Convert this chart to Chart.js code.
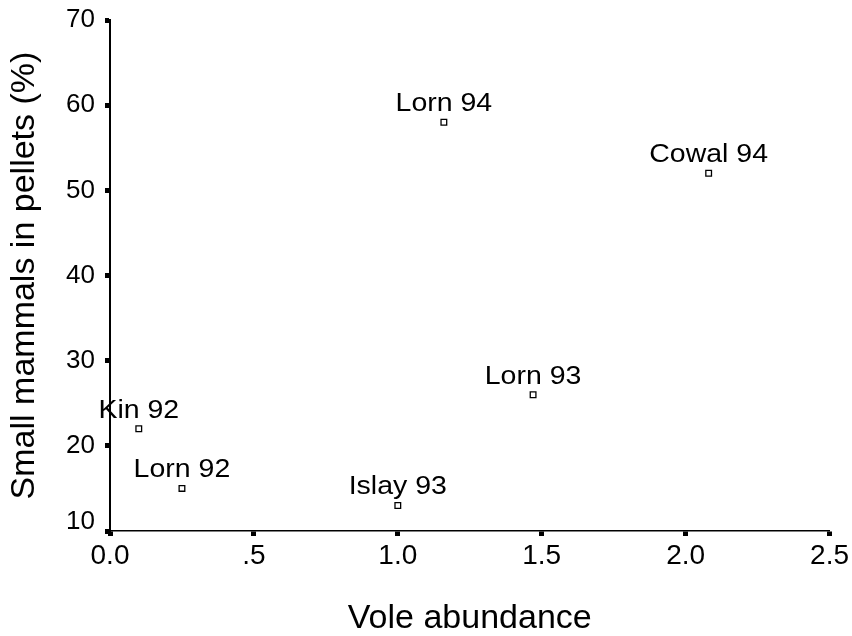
<!DOCTYPE html>
<html>
<head>
<meta charset="utf-8">
<script src="https://cdn.jsdelivr.net/npm/chart.js@4"></script>
<style>
  html, body { margin: 0; padding: 0; background: #fff; }
  canvas { display: block; }
</style>
</head>
<body>
<canvas id="c" width="852" height="636"></canvas>
<script>
// ---- data ----
const siteNames = ['Kin 92', 'Lorn 92', 'Islay 93', 'Lorn 94', 'Lorn 93', 'Cowal 94'];
const voleAbundance = [0.10, 0.25, 1.00, 1.16, 1.47, 2.08];
const smallMammalsPct = [22, 15, 13, 58, 26, 52];
const xTickLabels = ['0.0', '.5', '1.0', '1.5', '2.0', '2.5'];
const yTickLabels = ['10', '20', '30', '40', '50', '60', '70'];

const FONT = "'Liberation Sans', Arial, Helvetica, sans-serif";

const points = voleAbundance.map((x, i) => ({ x: x, y: smallMammalsPct[i] }));

const pointLabels = {
  id: 'pointLabels',
  afterDatasetsDraw(chart) {
    const ctx = chart.ctx;
    const meta = chart.getDatasetMeta(0);
    meta.data.forEach((el, i) => {
      ctx.save();
      ctx.font = '25px ' + FONT;
      ctx.fillStyle = '#000';
      ctx.textAlign = 'center';
      ctx.textBaseline = 'alphabetic';
      ctx.translate(el.x, el.y - 11);
      ctx.scale(1.14, 1);
      ctx.fillText(siteNames[i], 0, 0);
      ctx.restore();
    });
  }
};

new Chart(document.getElementById('c'), {
  type: 'scatter',
  data: {
    datasets: [{
      data: points,
      pointStyle: 'rect',
      pointRadius: 4,
      pointBorderWidth: 1.3,
      pointBorderColor: '#000',
      pointBackgroundColor: '#fff',
      pointHoverRadius: 4
    }]
  },
  options: {
    responsive: false,
    animation: false,
    devicePixelRatio: 1,
    layout: { padding: { top: 20, right: 22, left: 0, bottom: 0 } },
    plugins: {
      legend: { display: false },
      tooltip: { enabled: false }
    },
    scales: {
      x: {
        type: 'linear',
        min: 0,
        max: 2.5,
        afterFit(scale) { scale.height = 105; },
        border: { display: true, color: '#000', width: 1.5 },
        grid: { drawOnChartArea: false, drawTicks: true, tickLength: 5, tickWidth: 5, color: '#000' },
        ticks: {
          stepSize: 0.5,
          padding: 3,
          color: '#000',
          font: { family: FONT, size: 28 },
          maxRotation: 0,
          callback: (v, i) => xTickLabels[i]
        },
        title: {
          display: true,
          text: 'Vole abundance',
          color: '#000',
          font: { family: FONT, size: 34, lineHeight: 1 },
          padding: { top: 0, bottom: 0 }
        }
      },
      y: {
        type: 'linear',
        min: 10,
        max: 70,
        afterFit(scale) { scale.width = 110; },
        border: { display: true, color: '#000', width: 2 },
        grid: { drawOnChartArea: false, drawTicks: true, tickLength: 5, tickWidth: 5, color: '#000' },
        ticks: {
          stepSize: 10,
          padding: 10,
          color: '#000',
          font: { family: FONT, size: 26, lineHeight: 0.7 },
          // the lowest label sits a little above its tick, as in the original
          callback: (v, i) => (i === 0 ? [yTickLabels[i], ''] : yTickLabels[i])
        },
        title: {
          display: true,
          text: 'Small mammals in pellets (%)',
          color: '#000',
          font: { family: FONT, size: 34, lineHeight: 1 },
          padding: { top: 8, bottom: 0 }
        }
      }
    }
  },
  plugins: [pointLabels]
});
</script>
</body>
</html>
